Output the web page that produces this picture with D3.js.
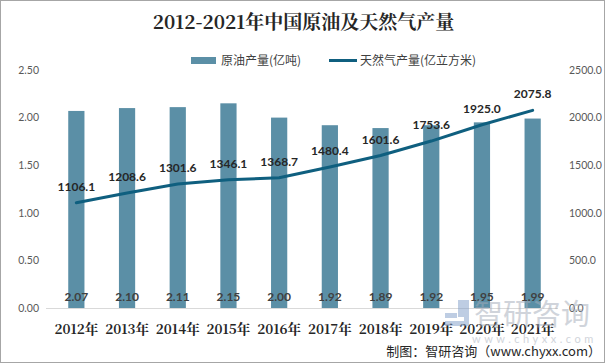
<!DOCTYPE html>
<html>
<head>
<meta charset="utf-8">
<script src="https://cdn.jsdelivr.net/npm/d3@7"></script>
<style>
  body { margin: 0; background: #fff; }
  svg { display: block; font-family: "Noto Sans CJK SC", "Noto Sans", sans-serif; }
</style>
</head>
<body>
<svg id="chart" width="605" height="363"></svg>
<script>
const years = ['2012年', '2013年', '2014年', '2015年', '2016年', '2017年', '2018年', '2019年', '2020年', '2021年'];
const oil = [2.07, 2.10, 2.11, 2.15, 2.00, 1.92, 1.89, 1.92, 1.95, 1.99];
const gas = [1106.1, 1208.6, 1301.6, 1346.1, 1368.7, 1480.4, 1601.6, 1753.6, 1925.0, 2075.8];
const leftTicks = [0, 0.5, 1, 1.5, 2, 2.5];
const rightTicks = [0, 500, 1000, 1500, 2000, 2500];

const svg = d3.select("#chart");
const width = +svg.attr("width");
const height = +svg.attr("height");
const margin = { top: 70, right: 47, bottom: 56, left: 51 };
const plotBottom = height - margin.bottom + 1;

const barColor = "#5b8fa6";
const lineColor = "#0f5f7f";
const numFont = "Lato, 'Liberation Sans', sans-serif";

// frame
svg.append("rect")
  .attr("x", 0.5).attr("y", 0.5)
  .attr("width", width - 1).attr("height", height - 1)
  .attr("fill", "#fff").attr("stroke", "#a6a6a6");

const x = d3.scaleBand()
  .domain(years)
  .range([margin.left, width - margin.right])
  .paddingInner(0.68)
  .paddingOuter(0.34);

const yL = d3.scaleLinear().domain([0, 2.5]).range([plotBottom, margin.top]);
const yR = d3.scaleLinear().domain([0, 2500]).range([plotBottom, margin.top]);

// title
svg.append("text")
  .attr("x", width / 2 + 1).attr("y", 29)
  .attr("text-anchor", "middle")
  .attr("font-size", 19).attr("font-weight", "bold")
  .attr("fill", "#262626")
  .attr("font-family", "'Noto Serif CJK SC', 'Noto Sans CJK SC', serif")
  .text("2012-2021年中国原油及天然气产量");

// legend
const lg = svg.append("g").attr("font-size", 12).attr("fill", "#404040");
lg.append("rect").attr("x", 191).attr("y", 57).attr("width", 25).attr("height", 7).attr("fill", barColor);
lg.append("text").attr("x", 221).attr("y", 65).text("原油产量(亿吨)");
lg.append("line").attr("x1", 329).attr("x2", 357).attr("y1", 60.5).attr("y2", 60.5)
  .attr("stroke", lineColor).attr("stroke-width", 3);
lg.append("text").attr("x", 360).attr("y", 65).text("天然气产量(亿立方米)");

// left axis
const axL = svg.append("g")
  .attr("transform", "translate(39,0)")
  .call(d3.axisLeft(yL).tickValues(leftTicks).tickFormat(d3.format(".2f")).tickSize(0).tickPadding(0));
axL.select(".domain").remove();
axL.selectAll("text").attr("fill", "#595959").attr("font-size", 10.5)
  .attr("font-family", numFont);

// right axis, labels left-aligned
const axR = svg.append("g")
  .attr("transform", "translate(569,0)")
  .call(d3.axisRight(yR).tickValues(rightTicks).tickFormat(d3.format(".1f")).tickSize(0).tickPadding(0));
axR.select(".domain").remove();
axR.selectAll("text").attr("fill", "#595959").attr("font-size", 10.5)
  .attr("font-family", numFont);

// bars
svg.append("g").selectAll("rect")
  .data(oil)
  .enter().append("rect")
    .attr("x", (d, i) => x(years[i]))
    .attr("y", d => yL(d))
    .attr("width", x.bandwidth())
    .attr("height", d => yL(0) - yL(d))
    .attr("fill", barColor);

// baseline
svg.append("line")
  .attr("x1", margin.left - 5).attr("x2", width - margin.right)
  .attr("y1", plotBottom + 0.5).attr("y2", plotBottom + 0.5)
  .attr("stroke", "#d9d9d9");

// x labels
svg.append("g").selectAll("text")
  .data(years)
  .enter().append("text")
    .attr("x", d => x(d) + x.bandwidth() / 2)
    .attr("y", plotBottom + 26)
    .attr("text-anchor", "middle")
    .attr("font-size", 13.5).attr("font-weight", "bold")
    .attr("fill", "#262626")
    .attr("font-family", "'Noto Serif CJK SC', 'Noto Sans CJK SC', serif")
    .text(d => d);

// bar value labels
svg.append("g").selectAll("text")
  .data(oil)
  .enter().append("text")
    .attr("x", (d, i) => x(years[i]) + x.bandwidth() / 2)
    .attr("y", plotBottom - 7)
    .attr("text-anchor", "middle")
    .attr("font-size", 12).attr("font-weight", "bold")
    .attr("fill", "#404040")
    .attr("font-family", numFont)
    .text(d => d.toFixed(2));

// gas line
const line = d3.line()
  .x((d, i) => x(years[i]) + x.bandwidth() / 2)
  .y(d => yR(d));

svg.append("path")
  .datum(gas)
  .attr("d", line)
  .attr("fill", "none")
  .attr("stroke", lineColor)
  .attr("stroke-width", 3)
  .attr("stroke-linecap", "round");

svg.append("g").selectAll("text")
  .data(gas)
  .enter().append("text")
    .attr("x", (d, i) => x(years[i]) + x.bandwidth() / 2)
    .attr("y", d => yR(d) - 12)
    .attr("text-anchor", "middle")
    .attr("font-size", 12).attr("font-weight", "bold")
    .attr("fill", "#262626")
    .attr("font-family", numFont)
    .text(d => d.toFixed(1));

// watermark
const wm = svg.append("g").attr("opacity", 0.5).attr("fill", "#a3abb8");
wm.append("rect").attr("x", 445).attr("y", 313).attr("width", 12).attr("height", 5).attr("fill", "#7f9cc8");
wm.append("path").attr("d", "M458,300 h11 v26 h-24 v-5 h19 v-4 h-6 v-17 z").attr("fill", "#7f9cc8");
wm.append("text").attr("x", 474).attr("y", 325).attr("font-size", 29).text("智研咨询");
wm.append("text").attr("x", 472).attr("y", 343).attr("font-size", 11)
  .attr("font-family", numFont)
  .attr("letter-spacing", 3.5).text("www.chyxx.com");

// source
svg.append("text")
  .attr("x", width - 4).attr("y", 356)
  .attr("text-anchor", "end")
  .attr("font-size", 13).attr("fill", "#262626")
  .text("制图：智研咨询（www.chyxx.com）");
</script>
</body>
</html>
